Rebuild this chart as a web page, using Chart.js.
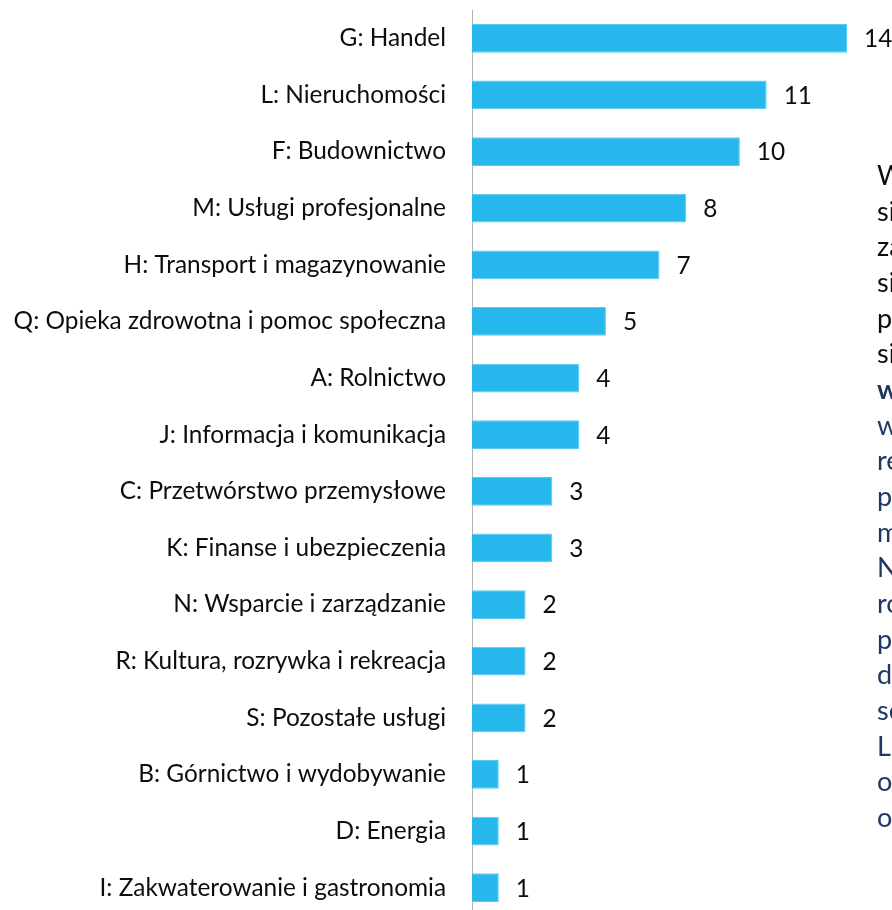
<!DOCTYPE html>
<html>
<head>
<meta charset="utf-8">
<script src="https://cdn.jsdelivr.net/npm/chart.js@4.4.1/dist/chart.umd.min.js"></script>
<style>
  html, body { margin: 0; padding: 0; background: #fff; overflow: hidden; width: 892px; height: 910px; }
  #wrap { position: absolute; left: 0; top: 0; width: 892px; height: 920px; }
  #side {
    position: absolute; left: 877px; top: 157px; width: 200px;
    font-family: Lato, sans-serif; font-size: 27px; line-height: 35.65px;
    white-space: nowrap; color: #0d0d0d;
  }
  #side .navy { color: #1f3864; }
  #side b { color: #1f3864; }
</style>
</head>
<body>
<div id="wrap"><canvas id="barChart"></canvas></div>
<div id="side">
  <div>Wśród</div>
  <div>się</div>
  <div>zakres</div>
  <div>się</div>
  <div>przez</div>
  <div>się</div>
  <div><b>wyraźnie</b></div>
  <div class="navy">w</div>
  <div class="navy">regionie</div>
  <div class="navy">przedsiębiorstw</div>
  <div class="navy">mniejszych</div>
  <div class="navy">Należy</div>
  <div class="navy">również</div>
  <div class="navy">podkreślić</div>
  <div class="navy">dominację</div>
  <div class="navy">sektora</div>
  <div class="navy">Liczba</div>
  <div class="navy">ogółem</div>
  <div class="navy">oraz</div>
</div>
<script>
// categories (top to bottom) and counts
const sectors = [
  "G: Handel",
  "L: Nieruchomości",
  "F: Budownictwo",
  "M: Usługi profesjonalne",
  "H: Transport i magazynowanie",
  "Q: Opieka zdrowotna i pomoc społeczna",
  "A: Rolnictwo",
  "J: Informacja i komunikacja",
  "C: Przetwórstwo przemysłowe",
  "K: Finanse i ubezpieczenia",
  "N: Wsparcie i zarządzanie",
  "R: Kultura, rozrywka i rekreacja",
  "S: Pozostałe usługi",
  "B: Górnictwo i wydobywanie",
  "D: Energia",
  "I: Zakwaterowanie i gastronomia",
];
const counts = [14, 11, 10, 8, 7, 5, 4, 4, 3, 3, 2, 2, 2, 1, 1, 1];

const FONT = "Lato, sans-serif";

// value labels next to the bar ends
const valueLabels = {
  id: "valueLabels",
  afterDatasetsDraw(chart) {
    const ctx = chart.ctx;
    const meta = chart.getDatasetMeta(0);
    ctx.save();
    ctx.font = "24.4px " + FONT;
    ctx.fillStyle = "#0d0d0d";
    ctx.textAlign = "left";
    ctx.textBaseline = "middle";
    meta.data.forEach((bar, i) => {
      ctx.fillText(String(counts[i]), bar.x + 17, bar.y + 1);
    });
    ctx.restore();
  },
};

new Chart(document.getElementById("barChart"), {
  type: "bar",
  data: {
    labels: sectors,
    datasets: [
      {
        data: counts,
        backgroundColor: "#26b8ec",
        borderColor: "#5cc9f0",
        borderWidth: 1,
        categoryPercentage: 1,
        barPercentage: 0.506,
      },
    ],
  },
  options: {
    indexAxis: "y",
    responsive: true,
    maintainAspectRatio: false,
    animation: false,
    layout: { padding: { top: 10, right: 45, bottom: 4, left: 0 } },
    plugins: {
      legend: { display: false },
      tooltip: { enabled: false },
    },
    scales: {
      x: {
        display: false,
        min: 0,
        max: 14,
      },
      y: {
        afterFit: (scale) => {
          scale.width = 472;
          scale.paddingTop = 0;
          scale.paddingBottom = 0;
        },
        grid: { display: false, drawTicks: false },
        border: { display: true, color: "#b3b3b3", width: 1 },
        ticks: {
          padding: 26,
          color: "#0d0d0d",
          font: { family: FONT, size: 24.4 },
        },
      },
    },
  },
  plugins: [valueLabels],
});
</script>
</body>
</html>
